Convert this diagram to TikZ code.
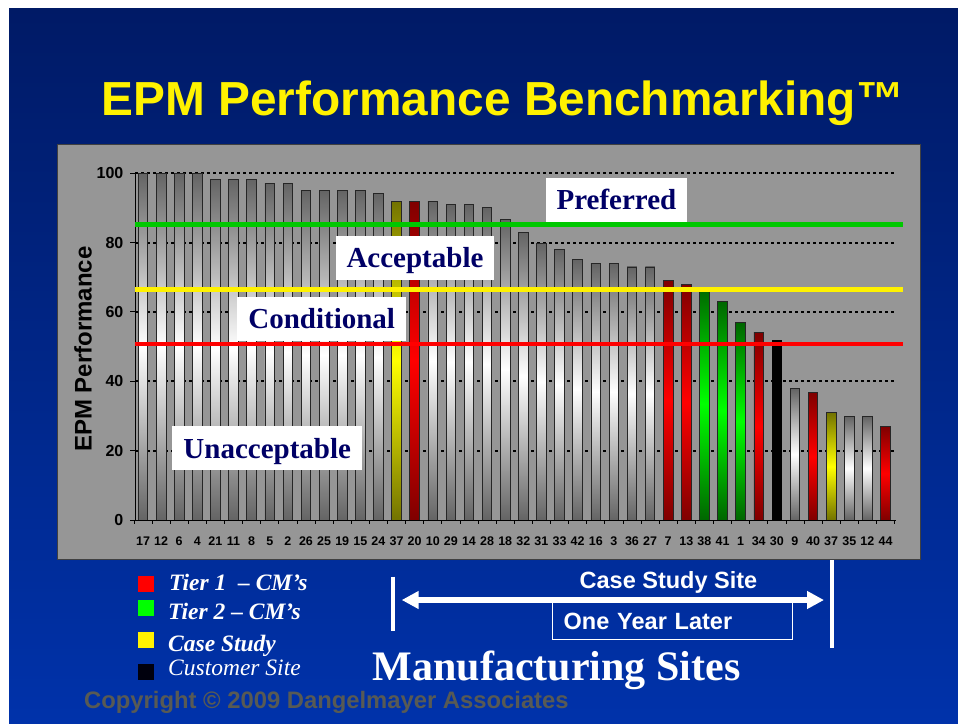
\documentclass[tikz,border=0pt]{standalone}
\usepackage{fontspec}
\setmainfont{Liberation Serif}
\setsansfont{Liberation Sans}
\usetikzlibrary{arrows.meta}

\definecolor{slidetop}{RGB}{0,26,102}
\definecolor{slidebot}{RGB}{0,50,170}
\definecolor{panelgray}{RGB}{150,150,150}
\definecolor{zonenavy}{RGB}{0,0,102}
\definecolor{linegreen}{RGB}{0,200,0}
\definecolor{copygray}{RGB}{88,90,84}
\definecolor{bardark}{RGB}{100,100,100}

\tikzset{
  bgray/.style={draw=black!85, line width=.8pt, top color=bardark, bottom color=bardark, middle color=white},
  bred/.style={draw=black!85, line width=.8pt, top color=red!50!black, bottom color=red!50!black, middle color=red},
  bgreen/.style={draw=black!85, line width=.8pt, top color=green!40!black, bottom color=green!40!black, middle color=green},
  byellow/.style={draw=black!85, line width=.8pt, top color=yellow!45!black, bottom color=yellow!45!black, middle color=yellow},
  bblack/.style={draw=black, line width=.8pt, fill=black},
  zonebox/.style={fill=white, text=zonenavy, font=\fontsize{29}{30}\selectfont\bfseries,
    minimum height=44pt, inner xsep=11pt, text height=19.5pt, text depth=0pt},
  xlab/.style={font=\sffamily\bfseries\fontsize{12.5}{13}\selectfont, inner sep=0pt},
  ylab/.style={font=\sffamily\bfseries\fontsize{16}{17}\selectfont, anchor=east, inner sep=0pt},
  gridline/.style={dash pattern=on 2.5pt off 3.5pt, line width=2pt},
  limit/.style={line width=4.5pt},
  legsq/.style={minimum size=16pt, inner sep=0pt},
  legtext/.style={text=white, anchor=base west, inner sep=0pt, font=\fontsize{23.5}{24}\selectfont\itshape},
  slidetext/.style={text=white, inner sep=0pt, font=\sffamily\bfseries\fontsize{23.5}{24}\selectfont},
}

\begin{document}
\begin{tikzpicture}[x=1pt,y=-1pt]
\useasboundingbox (0,0) rectangle (958,723);
\fill[white] (0,0) rectangle (958,723);
\shade[top color=slidetop, bottom color=slidebot] (9,8) rectangle (958,723);

% title
\node[anchor=base west, inner sep=0pt, text=yellow, font=\sffamily\bfseries\fontsize{47.8}{50}\selectfont]
  (title) at (101.5,115) {EPM Performance Benchmarking™};

% chart panel
\draw[fill=panelgray, draw=black!75, line width=1pt] (57.7,144.7) rectangle (920,559);
\foreach \g in {20,40,...,100}
  \draw[gridline] (135,{520-3.467*\g}) -- (895,{520-3.467*\g});

\foreach \v/\lab/\sty [count=\i] in {100/17/bgray, 100/12/bgray, 100/6/bgray, 100/4/bgray,
  98.3/21/bgray, 98.3/11/bgray, 98.3/8/bgray, 97/5/bgray, 97/2/bgray, 95/26/bgray,
  95/25/bgray, 95/19/bgray, 95/15/bgray, 94.2/24/bgray, 92/37/byellow, 92/20/bred,
  92/10/bgray, 91/29/bgray, 91/14/bgray, 90.1/28/bgray, 86.8/18/bgray, 82.9/32/bgray,
  79.8/31/bgray, 78.1/33/bgray, 75.2/42/bgray, 74/16/bgray, 74/3/bgray, 73/36/bgray,
  73/27/bgray, 69/7/bred, 67.9/13/bred, 67.1/38/bgreen, 63.1/41/bgreen, 56.9/1/bgreen,
  54/34/bred, 51.7/30/bblack, 37.9/9/bgray, 36.7/40/bred, 30.9/37/byellow, 29.8/35/bgray,
  29.8/12/bgray, 26.9/44/bred}
{
  \pgfmathsetmacro\x{143+(\i-1)*18.11}
  \draw[\sty] (\x-4.8,520) rectangle (\x+4.8,{520-3.467*\v});
  \node[xlab] (xl\i) at (\x,541.5) {\lab};
}

% axes
\draw[line width=1pt] (135,173.3) -- (135,520) -- (896,520);
\foreach \k in {0,...,42}
  \draw[line width=.8pt] ({134+\k*18.11},520) -- ++(0,4);
\foreach \g in {0,20,...,100}{
  \draw[line width=1pt] (130,{520-3.467*\g}) -- (135,{520-3.467*\g});
  \node[ylab] (yl\g) at (123.5,{520-3.467*\g}) {\g};
}
\node[rotate=90, inner sep=0pt, font=\sffamily\bfseries\fontsize{24}{25}\selectfont] (ytitle) at (83,349) {EPM Performance};

% limits
\draw[limit, linegreen] (135,224.3) -- (903,224.3);
\draw[limit, yellow] (135,289.7) -- (903,289.7);
\draw[limit, red] (135,344) -- (903,344);

\node[zonebox] (pref) at (616.4,199.5) {Preferred};
\node[zonebox] (acc) at (415,257.9) {Acceptable};
\node[zonebox] (cond) at (321.7,318.8) {Conditional};
\node[zonebox] (unacc) at (267.2,448.3) {Unacceptable};

% legend
\node[legsq, fill=red] (sq1) at (146,584) {};
\node[legsq, fill=green] (sq2) at (146,608) {};
\node[legsq, fill=yellow] (sq3) at (146,640) {};
\node[legsq, fill=black!95!blue] (sq4) at (146,672) {};
\node[legtext, font=\fontsize{23.5}{24}\selectfont\bfseries\itshape] (tier1) at (169,590) {Tier 1 \ – CM’s};
\node[legtext, font=\fontsize{23.5}{24}\selectfont\bfseries\itshape] (tier2) at (168,619) {Tier 2 – CM’s};
\node[legtext, font=\fontsize{23.5}{24}\selectfont\bfseries\itshape] (cstudy) at (168,651) {Case Study};
\node[legtext] (cust) at (168,675) {Customer Site};

% case study span
\coordinate (leftA) at (393,576.7);
\coordinate (leftB) at (393,631);
\coordinate (rightA) at (832,560);
\coordinate (rightB) at (832,647.7);
\draw[white, line width=3.5pt] (leftA) -- (leftB);
\draw[white, line width=3.5pt] (rightA) -- (rightB);
\coordinate (arrL) at (401.7,600);
\coordinate (arrR) at (824,600);
\draw[white, line width=5.5pt, {Triangle[length=17pt,width=17pt]}-{Triangle[length=17pt,width=17pt]}] (arrL) -- (arrR);
\node[slidetext, anchor=base] (site) at (668.5,588) {Case Study Site};
\node[draw=white, line width=1pt, text=white, font=\sffamily\bfseries\fontsize{23.5}{24}\selectfont,
  minimum height=36.6pt, text width=218pt, inner xsep=11pt, align=left, text height=17pt, text depth=0pt]
  (later) at (672.7,621) {One Year Later};

\node[anchor=base west, inner sep=0pt, text=white, font=\fontsize{42}{43}\selectfont\bfseries] (mfg) at (372.7,680.7) {Manufacturing Sites};
\node[anchor=base west, inner sep=0pt, text=copygray, font=\sffamily\bfseries\fontsize{23.8}{24}\selectfont] (copy) at (84,708) {Copyright © 2009 Dangelmayer Associates};
\end{tikzpicture}
\end{document}
